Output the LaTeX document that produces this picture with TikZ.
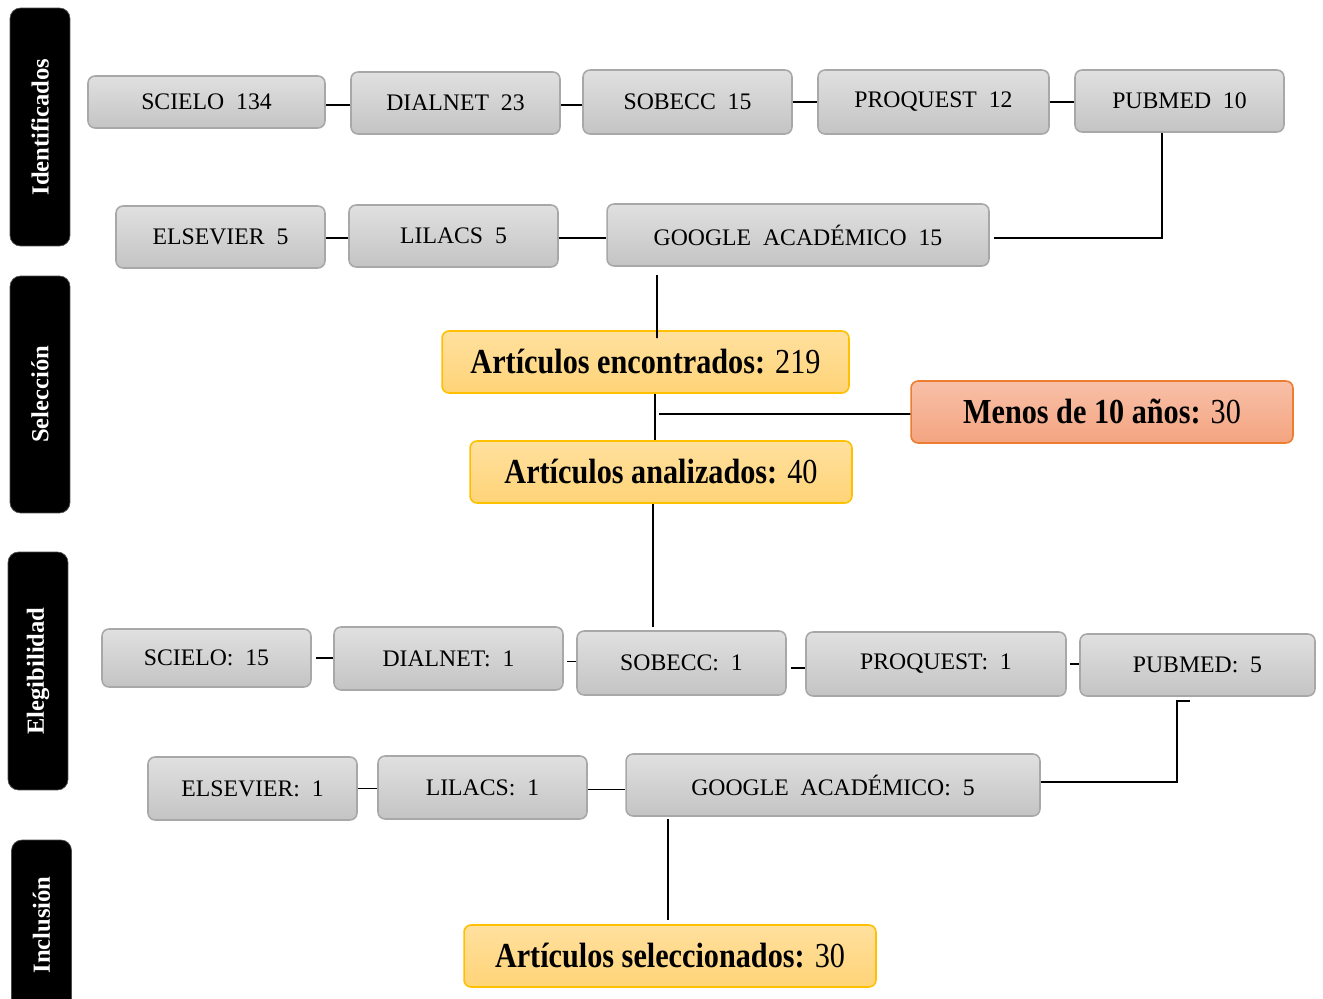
\documentclass[tikz,border=0pt]{standalone}
\usepackage{fontspec}
\setmainfont{Liberation Serif}
\newfontfamily\condfont[FakeStretch=0.86]{Liberation Serif}
\definecolor{gtop}{RGB}{224,224,224}
\definecolor{gbot}{RGB}{196,196,196}
\definecolor{gbord}{RGB}{168,168,168}
\definecolor{ytop}{RGB}{255,224,158}
\definecolor{ybot}{RGB}{255,212,120}
\definecolor{ybord}{RGB}{255,192,0}
\definecolor{otop}{RGB}{248,192,168}
\definecolor{obot}{RGB}{244,164,128}
\definecolor{obord}{RGB}{237,125,49}
\begin{document}
\begin{tikzpicture}[x=0.02cm,y=-0.02cm,
  gbox/.style={draw=gbord,line width=0.9pt,rounded corners=4pt,top color=gtop,bottom color=gbot,
     font=\fontsize{13.5}{16}\selectfont,inner sep=0pt,text=black},
  ybox/.style={draw=ybord,line width=0.9pt,rounded corners=4pt,top color=ytop,bottom color=ybot,
     font=\condfont\fontsize{20}{22}\selectfont,inner sep=0pt},
  obox/.style={draw=obord,line width=0.9pt,rounded corners=4pt,top color=otop,bottom color=obot,
     font=\condfont\fontsize{20}{22}\selectfont,inner sep=0pt},
  lbl/.style={draw=gray!60!black,fill=black,rounded corners=6pt,rotate=90,text=white,
     font=\bfseries\fontsize{14}{16}\selectfont,minimum height=1.2cm,inner sep=0pt},
  conn/.style={line width=1pt,black}]
\clip (0,0) rectangle (1323,999);
\useasboundingbox (0,0) rectangle (1323,999);

% side labels
\node[lbl,minimum width=4.76cm] (lid) at (40,127) {Identificados};
\node[lbl,minimum width=4.74cm] (lse) at (40,394.5) {Selección};
\node[lbl,minimum width=4.76cm] (lel) at (38,671) {Elegibilidad};
\node[lbl,minimum width=3.4cm] (lin) at (41.5,925) {Inclusión};

% row 1
\node[gbox,minimum width=4.74cm,minimum height=1.04cm] (r1a) at (206.5,102) {SCIELO~~134};
\node[gbox,minimum width=4.18cm,minimum height=1.24cm] (r1b) at (455.5,103) {DIALNET~~23};
\node[gbox,minimum width=4.18cm,minimum height=1.28cm] (r1c) at (687.5,102) {SOBECC~~15};
\node[gbox,minimum width=4.62cm,minimum height=1.28cm] (r1d) at (933.5,102) {PROQUEST~~12};
\node[gbox,minimum width=4.18cm,minimum height=1.24cm] (r1e) at (1179.5,101) {PUBMED~~10};

% row 2
\node[gbox,minimum width=4.18cm,minimum height=1.24cm] (r2a) at (220.5,237) {ELSEVIER~~5};
\node[gbox,minimum width=4.18cm,minimum height=1.24cm] (r2b) at (453.5,236) {LILACS~~5};
\node[gbox,minimum width=7.64cm,minimum height=1.24cm] (r2c) at (798,235) {GOOGLE~~ACADÉMICO~~15};

% selection
\node[ybox,minimum width=8.14cm,minimum height=1.24cm] (enc) at (645.5,362) {\textbf{Artículos encontrados:} 219};
\node[ybox,minimum width=7.64cm,minimum height=1.24cm] (ana) at (661,472) {\textbf{Artículos analizados:} 40};
\node[obox,minimum width=7.64cm,minimum height=1.24cm] (men) at (1102,412) {\textbf{Menos de 10 años:} 30};

% row 3
\node[gbox,minimum width=4.18cm,minimum height=1.16cm] (r3a) at (206.5,658) {SCIELO:~~15};
\node[gbox,minimum width=4.58cm,minimum height=1.26cm] (r3b) at (448.5,658.5) {DIALNET:~~1};
\node[gbox,minimum width=4.18cm,minimum height=1.28cm] (r3c) at (681.5,663) {SOBECC:~~1};
\node[gbox,minimum width=5.2cm,minimum height=1.28cm] (r3d) at (936,664) {PROQUEST:~~1};
\node[gbox,minimum width=4.7cm,minimum height=1.24cm] (r3e) at (1197.5,665) {PUBMED:~~5};

% row 4
\node[gbox,minimum width=4.18cm,minimum height=1.26cm] (r4a) at (252.5,788.5) {ELSEVIER:~~1};
\node[gbox,minimum width=4.18cm,minimum height=1.26cm] (r4b) at (482.5,787.5) {LILACS:~~1};
\node[gbox,minimum width=8.28cm,minimum height=1.24cm] (r4c) at (833,785) {GOOGLE~~ACADÉMICO:~~5};

% inclusion
\node[ybox,minimum width=8.24cm,minimum height=1.24cm] (sel) at (670,956) {\textbf{Artículos seleccionados:} 30};

% connectors row 1
\draw[conn] ([yshift=-0.06cm]r1a.east) -- ([yshift=-0.06cm]r1a.east -| r1b.west);
\draw[conn] ([yshift=-0.04cm]r1b.east) -- ([yshift=-0.04cm]r1b.east -| r1c.west);
\draw[conn] (r1c.east) -- (r1c.east -| r1d.west);
\draw[conn] (r1d.east) -- (r1d.east -| r1e.west);
% row 2
\draw[conn] ([yshift=-0.02cm]r2a.east) -- ([yshift=-0.02cm]r2a.east -| r2b.west);
\draw[conn] ([yshift=-0.04cm]r2b.east) -- ([yshift=-0.04cm]r2b.east -| r2c.west);
\draw[conn] ([xshift=0.08cm,yshift=-0.06cm]r2c.east) -| ([xshift=-0.35cm]r1e.south);
% to selection
\draw[conn] ([xshift=-2.82cm,yshift=-0.16cm]r2c.south) -- ([xshift=-2.82cm,yshift=-0.16cm]r2c.south |- enc.north) -- ++(0,-5);
\draw[conn] ([xshift=0.19cm]enc.south) -- ([xshift=0.19cm]enc.south |- ana.north);
\draw[conn] ([xshift=0.27cm]enc.south |- men.west) ++(0,2) -- ([yshift=-0.04cm]men.west);
\draw[conn] ([xshift=-0.16cm]ana.south) -- ([xshift=-0.16cm,yshift=0.06cm]ana.south |- r3c.north);
% row 3
\draw[conn] ([xshift=0.08cm]r3a.east) -- (r3a.east -| r3b.west);
\draw[conn] ([xshift=0.06cm,yshift=-0.06cm]r3b.east) -- ([yshift=-0.06cm]r3b.east -| r3c.west);
\draw[conn] ([xshift=0.08cm,yshift=-0.1cm]r3c.east) -- ([yshift=-0.1cm]r3c.east -| r3d.west);
\draw[conn] ([xshift=0.06cm]r3d.east) -- (r3d.east -| r3e.west);
% row 4
\draw[conn] (r4a.east) -- (r4a.east -| r4b.west);
\draw[conn] ([yshift=-0.04cm]r4b.east) -- ([yshift=-0.04cm]r4b.east -| r4c.west);
\draw[conn] ([yshift=0.06cm]r4c.east) -| ([xshift=-0.41cm,yshift=-0.08cm]r3e.south) -- ++(13,0);
% to inclusion
\draw[conn] ([xshift=-3.3cm,yshift=-0.04cm]r4c.south) -- ([xshift=-3.3cm,yshift=0.08cm]r4c.south |- sel.north);
\end{tikzpicture}
\end{document}
